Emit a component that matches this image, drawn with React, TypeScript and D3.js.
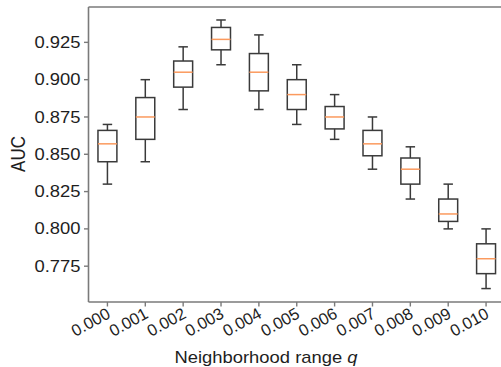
import React from "react";
import * as d3 from "d3";

const qLabels = ["0.000", "0.001", "0.002", "0.003", "0.004", "0.005", "0.006", "0.007", "0.008", "0.009", "0.010"];
const lowerWhisker = [0.83, 0.845, 0.88, 0.91, 0.88, 0.87, 0.86, 0.84, 0.82, 0.8, 0.76];
const q1 = [0.845, 0.86, 0.895, 0.92, 0.8925, 0.88, 0.867, 0.849, 0.83, 0.805, 0.77];
const median = [0.857, 0.875, 0.905, 0.927, 0.905, 0.89, 0.875, 0.857, 0.84, 0.81, 0.78];
const q3 = [0.866, 0.888, 0.9125, 0.935, 0.9175, 0.9, 0.882, 0.866, 0.8475, 0.82, 0.79];
const upperWhisker = [0.87, 0.9, 0.922, 0.94, 0.93, 0.91, 0.89, 0.875, 0.855, 0.83, 0.8];
const yTicks = [0.775, 0.8, 0.825, 0.85, 0.875, 0.9, 0.925];

const W = 501;
const H = 367;
const left = 88.5;
const right = 505;
const top = 7;
const bottom = 302;
const SX = 1.15;
const font = "'Liberation Sans', Arial, sans-serif";

export default function App() {
  const x = d3.scaleLinear().domain([0.5, qLabels.length + 0.5]).range([left, right]);
  const y = d3.scaleLinear().domain([0.751, 0.9487]).range([bottom, top]);
  const boxW = x(1.5) - x(1.25);
  const capW = boxW / 2;
  const boxColor = "#3a3a3a";
  const medColor = "#fb9a5e";
  const spineColor = "#7a7a7a";
  const textColor = "#1e1e1e";

  return (
    <svg width={W} height={H} style={{ position: "absolute", left: 0, top: 0, background: "#fff" }}>
      <line x1={left} x2={left} y1={top} y2={bottom} stroke={spineColor} strokeWidth={1.6} />
      <line x1={left} x2={right} y1={bottom} y2={bottom} stroke={spineColor} strokeWidth={1.6} />
      <line x1={left} x2={right} y1={top} y2={top} stroke={spineColor} strokeWidth={1.6} />
      {yTicks.map((t) => (
        <g key={t}>
          <line x1={left - 4.5} x2={left} y1={y(t)} y2={y(t)} stroke={spineColor} strokeWidth={1.4} />
          <text
            transform={`translate(${left - 8},${y(t)}) scale(${SX},1)`}
            textAnchor="end"
            dy="0.35em"
            fontFamily={font}
            fontSize={16}
            fill={textColor}
          >
            {d3.format(".3f")(t)}
          </text>
        </g>
      ))}
      {qLabels.map((lab, i) => {
        const cx = x(i + 1);
        return (
          <g key={lab}>
            <line x1={cx} x2={cx} y1={bottom} y2={bottom + 4.5} stroke={spineColor} strokeWidth={1.4} />
            <text
              transform={`translate(${cx + 4},${bottom + 15}) rotate(-29)`}
              textAnchor="end"
              fontFamily={font}
              fontSize={16.5}
              fill={textColor}
            >
              {lab}
            </text>
          </g>
        );
      })}
      {qLabels.map((lab, i) => {
        const cx = x(i + 1);
        return (
          <g key={"b" + lab} fill="none" strokeWidth={1.5}>
            <line x1={cx} x2={cx} y1={y(upperWhisker[i])} y2={y(q3[i])} stroke={boxColor} />
            <line x1={cx} x2={cx} y1={y(q1[i])} y2={y(lowerWhisker[i])} stroke={boxColor} />
            <line x1={cx - capW} x2={cx + capW} y1={y(upperWhisker[i])} y2={y(upperWhisker[i])} stroke={boxColor} />
            <line x1={cx - capW} x2={cx + capW} y1={y(lowerWhisker[i])} y2={y(lowerWhisker[i])} stroke={boxColor} />
            <rect x={cx - boxW} y={y(q3[i])} width={boxW * 2} height={y(q1[i]) - y(q3[i])} stroke={boxColor} />
            <line x1={cx - boxW} x2={cx + boxW} y1={y(median[i])} y2={y(median[i])} stroke={medColor} />
          </g>
        );
      })}
      <text
        transform={`translate(25,154) scale(${SX},1) rotate(-90)`}
        textAnchor="middle"
        fontFamily={font}
        fontSize={17}
        fill={textColor}
      >
        AUC
      </text>
      <text
        transform={`translate(266,363) scale(${SX},1)`}
        textAnchor="middle"
        fontFamily={font}
        fontSize={16}
        fill={textColor}
      >
        Neighborhood range <tspan fontStyle="italic">q</tspan>
      </text>
    </svg>
  );
}
